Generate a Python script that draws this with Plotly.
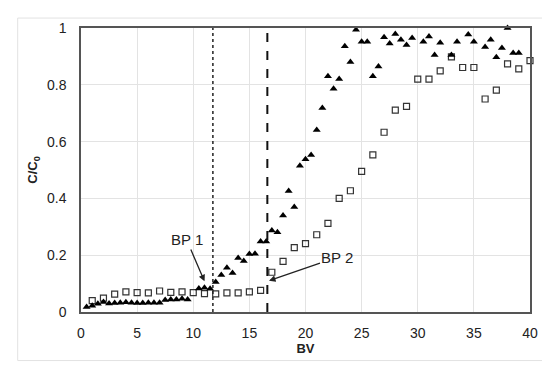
import plotly.graph_objects as go

# Series 1: filled triangles
tri_x = [0.5, 1.0, 1.5, 2.0, 2.5, 3.0, 3.5, 4.0, 4.5, 5.0, 5.5, 6.0, 6.5, 7.0, 7.5, 8.0, 8.5, 9.0, 9.5,
         10.5, 11.0, 11.5, 12.0, 12.5, 13.0, 13.5, 14.0, 14.5, 15.0, 15.5, 16.0, 16.5, 17.0, 17.5,
         18.0, 18.5, 19.0, 19.5, 20.0, 20.5, 21.0, 21.5, 22.0, 22.5, 23.0, 23.5, 24.0, 24.5, 25.0,
         25.5, 26.0, 26.5, 27.0, 27.5, 28.0, 28.5, 29.0, 29.5, 30.5, 31.0, 31.5, 32.0, 33.0, 33.5,
         34.5, 35.0, 36.0, 36.5, 37.0, 37.5, 38.0, 38.5, 39.0]
tri_y = [0.018, 0.022, 0.029, 0.035, 0.030, 0.032, 0.033, 0.034, 0.033, 0.032, 0.032, 0.033, 0.033, 0.033,
         0.042, 0.044, 0.044, 0.047, 0.044,
         0.083, 0.085, 0.082, 0.106, 0.130, 0.156, 0.137, 0.190, 0.180, 0.204, 0.205, 0.248, 0.248,
         0.287, 0.281, 0.340, 0.426, 0.370, 0.515, 0.538, 0.553, 0.641, 0.718, 0.830, 0.786, 0.820,
         0.936, 0.880, 0.994, 0.952, 0.952, 0.830, 0.864, 0.967, 0.945, 0.979, 0.959, 0.940, 0.965,
         0.952, 0.970, 0.905, 0.948, 0.905, 0.952, 0.977, 0.952, 0.933, 0.959, 0.897, 0.930, 1.000,
         0.912, 0.912]

# Series 2: open squares
sq_x = [1, 2, 3, 4, 5, 6, 7, 8, 9, 10, 11, 12, 13, 14, 15, 16, 17, 18, 19, 20, 21, 22, 23, 24, 25,
        26, 27, 28, 29, 30, 31, 32, 33, 34, 35, 36, 37, 38, 39, 40]
sq_y = [0.040, 0.049, 0.063, 0.071, 0.068, 0.067, 0.074, 0.069, 0.071, 0.068, 0.065, 0.064, 0.067,
        0.067, 0.071, 0.076, 0.140, 0.178, 0.227, 0.241, 0.272, 0.312, 0.400, 0.427, 0.495, 0.553,
        0.633, 0.711, 0.724, 0.820, 0.820, 0.849, 0.898, 0.861, 0.861, 0.750, 0.781, 0.874, 0.856,
        0.885]

# Break points (vertical lines) and their labels
bp1_x = 11.75
bp2_x = 16.6
bp_labels = ["BP 1", "BP 2"]
bp_label_pos = [(9.4, 0.255), (22.85, 0.193)]
bp_arrow_tip = [(11.0, 0.108), (16.75, 0.11)]

x_ticks = [0, 5, 10, 15, 20, 25, 30, 35, 40]
y_ticks = [0, 0.2, 0.4, 0.6, 0.8, 1]
y_tick_text = ["0", "0.2", "0.4", "0.6", "0.8", "1"]

FONT = "Liberation Sans, Arial, sans-serif"

fig = go.Figure()
fig.add_trace(go.Scatter(
    x=sq_x, y=sq_y, mode="markers", cliponaxis=False,
    marker=dict(symbol="square-open", size=6, color="#333", line=dict(width=1.2, color="#333")),
    showlegend=False))
fig.add_trace(go.Scatter(
    x=tri_x, y=tri_y, mode="markers", cliponaxis=False,
    marker=dict(symbol="triangle-up", size=7, color="black", line=dict(width=0)),
    showlegend=False))

# vertical break-point lines
fig.add_shape(type="line", x0=bp1_x, x1=bp1_x, y0=0, y1=1, xref="x", yref="y",
              line=dict(color="#222", width=1.5, dash="dot"))
fig.add_shape(type="line", x0=bp2_x, x1=bp2_x, y0=0, y1=1, xref="x", yref="y",
              line=dict(color="#111", width=2, dash="dash"))

# outer light frame
fig.add_shape(type="rect", xref="paper", yref="paper", x0=-0.141, x1=1.040, y0=-0.171, y1=1.035,
              line=dict(color="#e2e2e2", width=1), layer="below")

# labels with arrows (text at ax/ay, arrow pointing to x/y)
for lab, (tx, ty), (hx, hy) in zip(bp_labels, bp_label_pos, bp_arrow_tip):
    fig.add_annotation(x=hx, y=hy, ax=tx, ay=ty, xref="x", yref="y", axref="x", ayref="y",
                       text=lab, showarrow=True, arrowhead=2, arrowsize=1, arrowwidth=1.3,
                       arrowcolor="#222", font=dict(family=FONT, size=15, color="#222"))

fig.update_xaxes(range=[0, 40], tickvals=x_ticks, showgrid=True, gridcolor="#e3e3e3", gridwidth=1,
                 showline=True, linecolor="#555", linewidth=1.5, mirror=True, zeroline=False,
                 ticks="", ticklabelstandoff=7,
                 tickfont=dict(family=FONT, size=14, color="#222"),
                 title=dict(text="<b>BV</b>", font=dict(family=FONT, size=13, color="#222"), standoff=3))
fig.update_yaxes(range=[0, 1], tickvals=y_ticks, ticktext=y_tick_text, showgrid=True,
                 gridcolor="#e3e3e3", gridwidth=1,
                 showline=True, linecolor="#555", linewidth=1.5, mirror=True, zeroline=False,
                 ticks="", ticklabelstandoff=10,
                 tickfont=dict(family=FONT, size=14, color="#222"),
                 title=dict(text="<b>C/C<sub>0</sub></b>", font=dict(family=FONT, size=13, color="#222"),
                            standoff=6))

fig.update_layout(width=550, height=365, margin=dict(l=73, r=28, t=18, b=61),
                  paper_bgcolor="white", plot_bgcolor="white", showlegend=False)

fig.write_html("out.html")
